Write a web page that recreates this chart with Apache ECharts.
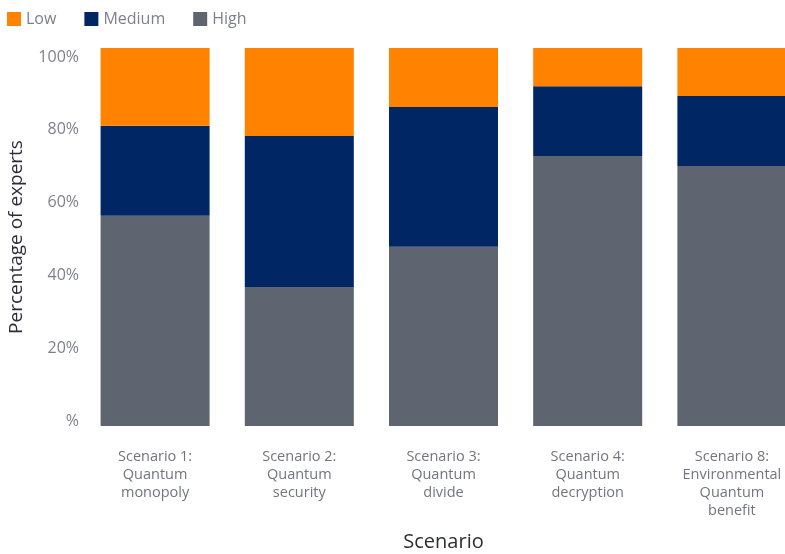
<!DOCTYPE html>
<html>
<head>
<meta charset="utf-8">
<script src="https://cdn.jsdelivr.net/npm/echarts@6/dist/echarts.min.js"></script>
<style>
  html, body { margin: 0; padding: 0; background: #fff; }
  #chart { width: 785px; height: 554px; }
</style>
</head>
<body>
<div id="chart"></div>
<script>
// categories and values (share of experts, %)
const scenarios = [
  "Scenario 1:\nQuantum\nmonopoly",
  "Scenario 2:\nQuantum\nsecurity",
  "Scenario 3:\nQuantum\ndivide",
  "Scenario 4:\nQuantum\ndecryption",
  "Scenario 8:\nEnvironmental\nQuantum\nbenefit"
];
const high = [55.6, 36.8, 47.4, 71.4, 68.8];
const medium = [23.8, 39.9, 37.0, 18.5, 18.5];
const low = [20.6, 23.3, 15.6, 10.1, 12.7];
const yTicks = [0, 20, 40, 60, 80, 100];

const chart = echarts.init(document.getElementById("chart"));
const font = "Open Sans";

chart.setOption({
  animation: false,
  legend: {
    left: 2,
    top: 6,
    itemWidth: 14,
    itemHeight: 14,
    itemGap: 28,
    icon: "rect",
    textStyle: { fontFamily: font, fontSize: 16, color: "#7f7f8c" },
    data: ["Low", "Medium", "High"]
  },
  grid: { left: 83, width: 721, top: 48, height: 378, outerBoundsMode: "none" },
  xAxis: {
    type: "category",
    data: scenarios,
    axisLine: { show: false },
    axisTick: { show: false },
    axisLabel: {
      interval: 0,
      margin: 22,
      fontFamily: font,
      fontSize: 14.5,
      lineHeight: 18,
      color: "#747480"
    },
    name: "Scenario",
    nameLocation: "middle",
    nameGap: 106,
    nameTextStyle: { fontFamily: font, fontSize: 20, color: "#2e2e38" }
  },
  yAxis: [
    {
      type: "value",
      min: 0,
      max: 100,
      show: false
    },
    {
      // label axis, slightly offset from the bar scale as in the source
      type: "value",
      min: -1.37,
      max: 102.47,
      position: "left",
      axisLine: { show: false },
      axisTick: { show: false },
      splitLine: { show: false },
      axisLabel: {
        customValues: yTicks,
        margin: 4,
        fontFamily: font,
        fontSize: 16,
        color: "#7f7f8c",
        formatter: v => (v === 0 ? "%" : v + "%")
      },
      name: "Percentage of experts",
      nameLocation: "middle",
      nameGap: 57,
      nameTextStyle: { fontFamily: font, fontSize: 19, color: "#2e2e38" }
    }
  ],
  series: [
    {
      name: "High",
      type: "bar",
      stack: "total",
      yAxisIndex: 0,
      barCategoryGap: "24.4%",
      itemStyle: { color: "#5e6570" },
      data: high
    },
    {
      name: "Medium",
      type: "bar",
      stack: "total",
      yAxisIndex: 0,
      itemStyle: { color: "#002664" },
      data: medium
    },
    {
      name: "Low",
      type: "bar",
      stack: "total",
      yAxisIndex: 0,
      itemStyle: { color: "#ff8300" },
      data: low
    }
  ]
});
</script>
</body>
</html>
